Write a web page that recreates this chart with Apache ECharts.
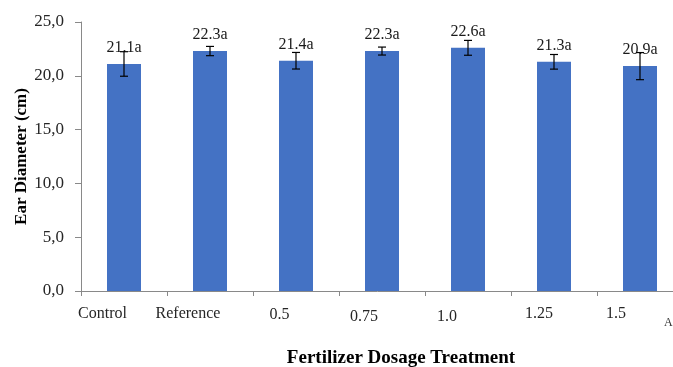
<!DOCTYPE html>
<html>
<head>
<meta charset="utf-8">
<script src="https://cdn.jsdelivr.net/npm/echarts@6/dist/echarts.min.js"></script>
<style>html,body{margin:0;padding:0;background:#fff}#c{width:673px;height:367px}</style>
</head>
<body>
<div id="c"></div>
<script>
const categories = ['Control', 'Reference', '0.5', '0.75', '1.0', '1.25', '1.5'];
const means = [21.1, 22.3, 21.4, 22.3, 22.6, 21.3, 20.9];
const errors = [1.14, 0.43, 0.77, 0.37, 0.69, 0.68, 1.26];
const letters = ['a', 'a', 'a', 'a', 'a', 'a', 'a'];
const yTicks = [0, 5, 10, 15, 20, 25];

// label layout quirks of the original (offsets in px)
const labelShiftLeft = [21.5, 22, 16.5, 18, 21, 15, 24];
const labelShiftDown = [0, 0, 1, 3, 3, 0, 0];

const FONT = '"Liberation Serif", "Times New Roman", serif';
const rich = {};
categories.forEach((c, i) => {
  rich['c' + i] = {
    fontFamily: FONT, fontSize: 16, color: '#262626',
    padding: [labelShiftDown[i], labelShiftLeft[i] * 2, 0, 0]
  };
});

const chart = echarts.init(document.getElementById('c'));
chart.setOption({
  animation: false,
  backgroundColor: '#fff',
  grid: { left: 81, top: 22, width: 602, height: 269, containLabel: false, outerBoundsMode: 'none' },
  xAxis: {
    type: 'category',
    data: categories,
    axisLine: { lineStyle: { color: '#898989', width: 1 } },
    axisTick: { show: true, length: 5, alignWithLabel: false, lineStyle: { color: '#898989' } },
    axisLabel: {
      interval: 0, margin: 15,
      formatter: (v, i) => '{c' + i + '|' + v + '}',
      rich: rich
    },
    name: 'Fertilizer Dosage Treatment',
    nameLocation: 'middle',
    nameGap: 58,
    nameMoveOverlap: false,
    nameTextStyle: { fontFamily: FONT, fontSize: 19, fontWeight: 'bold', color: '#000', padding: [0, 0, 0, 38] }
  },
  yAxis: {
    type: 'value',
    min: 0, max: 25, interval: 5,
    splitLine: { show: false },
    axisLine: { show: true, lineStyle: { color: '#898989', width: 1 } },
    axisTick: { show: true, length: 6, lineStyle: { color: '#898989' } },
    axisLabel: {
      margin: 17,
      fontFamily: FONT, fontSize: 17, color: '#262626',
      formatter: v => yTicks.includes(v) ? v.toFixed(1).replace('.', ',') : ''
    },
    name: 'Ear Diameter (cm)',
    nameLocation: 'middle',
    nameGap: 51,
    nameMoveOverlap: false,
    nameTextStyle: { fontFamily: FONT, fontSize: 17, fontWeight: 'bold', color: '#000' }
  },
  graphic: [{
    type: 'text', left: 664, top: 317,
    style: { text: 'A', fontFamily: FONT, fontSize: 12, fill: '#333' }
  }],
  series: [{
    type: 'bar',
    data: means,
    barWidth: 34,
    itemStyle: { color: '#4472C4' },
    label: {
      show: true, position: 'top', distance: 8,
      fontFamily: FONT, fontSize: 16, color: '#1a1a1a',
      formatter: p => p.value.toFixed(1) + letters[p.dataIndex]
    },
    z: 2
  }, {
    type: 'custom',
    data: means.map((m, i) => [i, m - errors[i], m + errors[i]]),
    z: 5,
    renderItem: (params, api) => {
      const x = api.value(0);
      const lo = api.coord([x, api.value(1)]);
      const hi = api.coord([x, api.value(2)]);
      const cap = 4;
      const st = { stroke: '#000', lineWidth: 1.2 };
      return {
        type: 'group',
        children: [
          { type: 'line', shape: { x1: lo[0], y1: lo[1], x2: hi[0], y2: hi[1] }, style: st },
          { type: 'line', shape: { x1: lo[0] - cap, y1: lo[1], x2: lo[0] + cap, y2: lo[1] }, style: st },
          { type: 'line', shape: { x1: hi[0] - cap, y1: hi[1], x2: hi[0] + cap, y2: hi[1] }, style: st }
        ]
      };
    }
  }]
});
</script>
</body>
</html>
